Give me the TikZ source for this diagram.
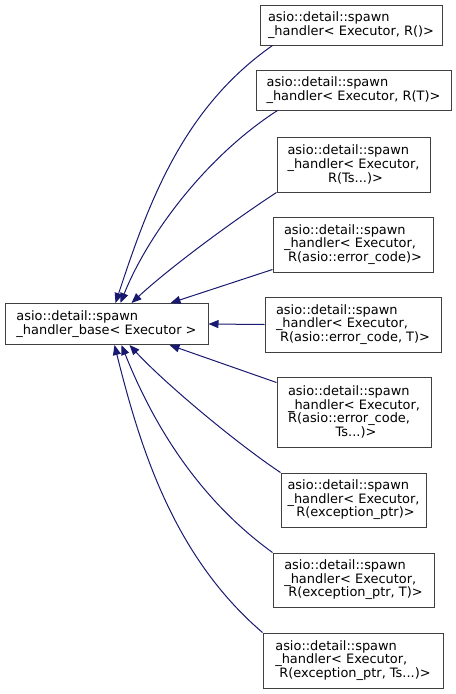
\documentclass[tikz,border=0pt]{standalone}
\usepackage{fontspec}
\setmainfont{DejaVu Sans}
\usepackage{xcolor}
\usetikzlibrary{arrows.meta,calc}

\definecolor{edgeblue}{RGB}{25,25,112}
\definecolor{boxgray}{RGB}{64,64,64}

\begin{document}
\begin{tikzpicture}[
    x=0.75pt, y=-0.75pt,
    font=\fontsize{9.7}{10.2}\selectfont,
    n/.style={draw=boxgray, line width=0.75pt, fill=white, align=left, inner sep=0pt},
    wh/.style 2 args={minimum width=#1*0.75pt, minimum height=#2*0.75pt},
    inh/.style={edgeblue, line width=0.75pt, -{Triangle[length=7.5pt,width=6pt]}},
    ]
\useasboundingbox (0,0) rectangle (456,694);

\node[n, wh={203}{41}] (hb) at (106.5,324) {asio::detail::spawn\\\_handler\_base< Executor >};

\node[n, wh={182}{40}] (h1) at (351,25) {asio::detail::spawn\\\_handler< Executor, R()>};
\node[n, wh={195}{40}] (h2) at (353.5,90) {asio::detail::spawn\\\_handler< Executor, R(T)>};
\node[n, wh={153}{55}] (h3) at (353.5,164.5) {asio::detail::spawn\\\_handler< Executor,\\\hfil\ R(Ts...)>};
\node[n, wh={160}{55}] (h4) at (353,244.5) {asio::detail::spawn\\\_handler< Executor,\\\hfil\ R(asio::error\_code)>};
\node[n, wh={176}{55}] (h5) at (353,324.5) {asio::detail::spawn\\\_handler< Executor,\\\hfil\ R(asio::error\_code, T)>};
\node[n, wh={154}{70}] (h6) at (354,412) {asio::detail::spawn\\\_handler< Executor,\\R(asio::error\_code,\\\hfil\ Ts...)>};
\node[n, wh={145}{54}] (h7) at (353.5,500) {asio::detail::spawn\\\_handler< Executor,\\\hfil\ R(exception\_ptr)>};
\node[n, wh={161}{54}] (h8) at (353.5,580) {asio::detail::spawn\\\_handler< Executor,\\\hfil\ R(exception\_ptr, T)>};
\node[n, wh={180}{55}] (h9) at (353,660.5) {asio::detail::spawn\\\_handler< Executor,\\\hfil\ R(exception\_ptr, Ts...)>};

% derived -> base
\draw[inh] ($(h1.south west)+(13,0)$) .. controls +(-90,63) and +(33,-100) .. ($(hb.north west)+(111,0)$);
\draw[inh] ($(h2.south west)+(22,0)$) .. controls +(-70,45) and +(28,-70) .. ($(hb.north west)+(116,0)$);
\draw[inh] (h3.south west) .. controls +(-40,26) and +(40,-37) .. ($(hb.north west)+(127,0)$);
\draw[inh] ($(h4.south west)+(0,-3)$) -- ($(hb.north west)+(166,0)$);
\draw[inh] (h5.west) -- (hb.east);
\draw[inh] ($(h6.north west)+(0,6)$) -- ($(hb.south west)+(165,0)$);
\draw[inh] (h7.north west) .. controls +(-45,-30) and +(35,38) .. ($(hb.south west)+(125,0)$);
\draw[inh] (h8.north west) .. controls +(-80,-58) and +(28,70) .. ($(hb.south west)+(117,0)$);
\draw[inh] (h9.north west) .. controls +(-90,-77) and +(25,100) .. ($(hb.south west)+(110,0)$);
\end{tikzpicture}
\end{document}
